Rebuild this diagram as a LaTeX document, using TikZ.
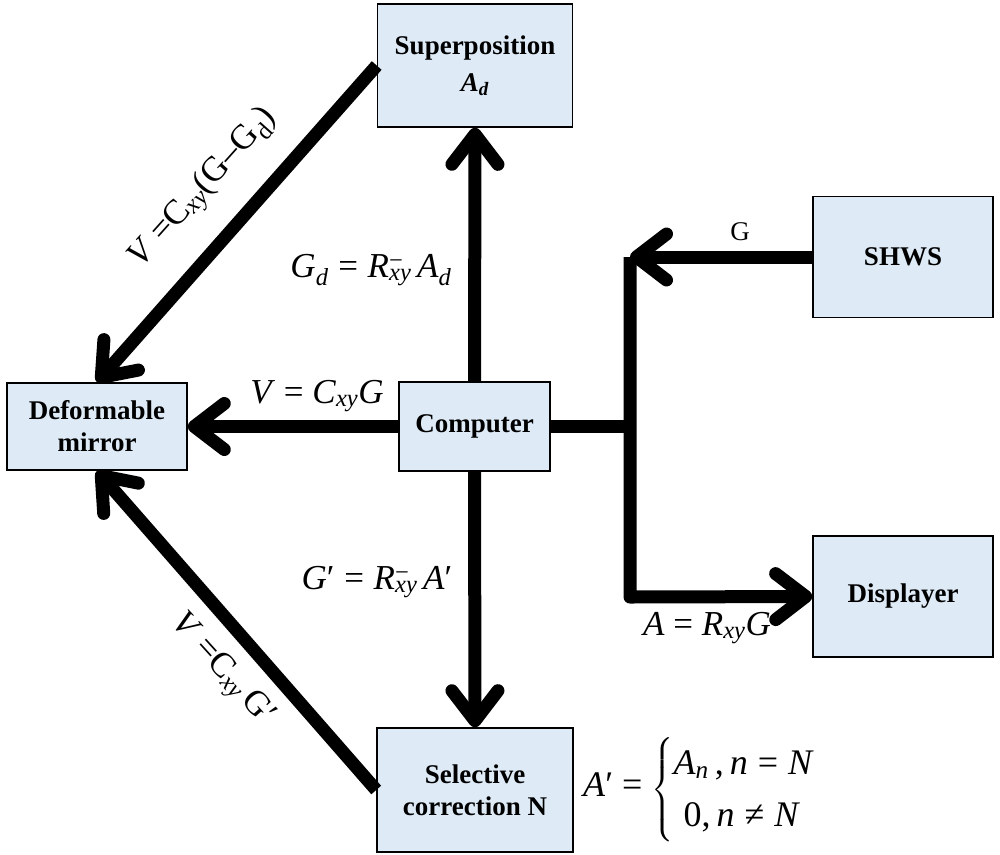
\documentclass[tikz,border=0pt]{standalone}
\usepackage{amsmath}
\usepackage{fontspec}
\setmainfont{Liberation Serif}
\usetikzlibrary{arrows.meta}
\definecolor{boxfill}{RGB}{222,235,247}
\begin{document}
\begin{tikzpicture}[x=1pt,y=-1pt,
  box/.style={draw=black, line width=1.6pt, fill=boxfill, align=center,
    font=\fontsize{27}{32}\selectfont\bfseries, inner sep=0pt},
  conn/.style={line width=13pt, line join=round},
  arr/.style={conn, -{Straight Barb[round,length=30pt,width=46pt]}},
  lab/.style={font=\fontsize{35}{40}\selectfont, inner sep=0pt}]
\useasboundingbox (0,0) rectangle (1000,854);
% boxes
\node[box, minimum width=195pt, minimum height=123pt, font=\fontsize{27}{37}\selectfont\bfseries] (sup) at (475,65.5) {Superposition\\\textit{A}\textsubscript{\textit{d}}};
\node[box, minimum width=180pt, minimum height=121pt] (shws) at (903,257) {SHWS};
\node[box, minimum width=180pt, minimum height=87pt] (dm) at (97,426.5) {Deformable\\mirror};
\node[box, minimum width=151pt, minimum height=89pt] (comp) at (474.5,426.5) {Computer};
\node[box, minimum width=180pt, minimum height=121pt] (disp) at (903,596.5) {Displayer};
\node[box, minimum width=196pt, minimum height=124pt] (sel) at (475,790) {Selective\\correction N};
% junctions
\coordinate (j1) at (630,257);
\coordinate (j2) at (630,426.5);
\coordinate (j3) at (630,597);
% connectors
\draw[arr] (comp.north) -- (sup.south);
\draw[arr] (comp.south) -- (sel.north);
\draw[arr] (comp.west) -- (dm.east);
\draw[conn] (comp.east) -- (j2);
\draw[arr] (shws.west) -- (j1);
\draw[arr] (j1) -- (j3) -- (disp.west);
\draw[arr] (sup.west) -- (dm.north);
\draw[arr] (sel.west) -- (dm.south);
% labels
\node[lab, font=\fontsize{27}{30}\selectfont] (lG) at (740,232) {G};
\node[lab] (lgd) at (371,270) {\textit{G}\textsubscript{\textit{d}}\;=\;\textit{R}\rlap{\textsuperscript{−}}\textsubscript{\textit{xy}}\,\textit{A}\textsubscript{\textit{d}}};
\node[lab] (lv) at (317,396) {\textit{V} = \textit{C}\textsubscript{\textit{xy}}\textit{G}};
\node[lab] (lgp) at (377,582) {\textit{G}′\;=\;\textit{R}\rlap{\textsuperscript{−}}\textsubscript{\textit{xy}}\,\textit{A}′};
\node[lab] (la) at (707,628) {\textit{A} = \textit{R}\textsubscript{\textit{xy}}\textit{G}};
\node[lab, rotate=48.2] (lup) at (203,188) {\textit{V} =C\textsubscript{\textit{xy}}(G–G\textsubscript{d})};
\node[lab, rotate=-47.9] (llow) at (222,670) {\textit{V} =C\textsubscript{\textit{xy}}\,G′};
\node[lab, anchor=west, font=\fontsize{36}{40}\selectfont] (lpw) at (583,790) {\def\arraystretch{1.3}\textit{A}′ = $\left\{\begin{tabular}{@{}l@{}}\textit{A}\textsubscript{\textit{n}}\,,\,\textit{n}\;=\;\textit{N}\\ \;0,\,\textit{n}\;≠\;\textit{N}\end{tabular}\right.$};
\end{tikzpicture}
\end{document}
